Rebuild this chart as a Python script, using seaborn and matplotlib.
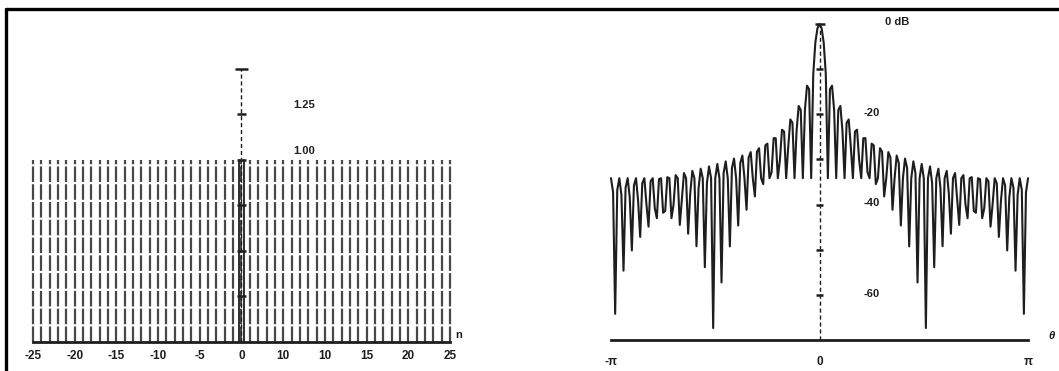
import numpy as np
import matplotlib
matplotlib.use("Agg")
import matplotlib.pyplot as plt
from matplotlib.lines import Line2D
import seaborn as sns
import pandas as pd

# Rectangular window: 51 unit samples, n = -25 .. 25
n_index = list(range(-25, 26))
window_values = [1.0] * 51

# Tick labels under the sample axis (as printed)
n_tick_pos = [-25, -20, -15, -10, -5, 0, 5, 10, 15, 20, 25]
n_tick_labels = ["-25", "-20", "-15", "-10", "-5", "0", "10", "10", "15", "20", "25"]
amp_ticks = [0.25, 0.5, 0.75, 1.0, 1.25, 1.5]
amp_labels = {1.25: "1.25", 1.0: "1.00"}

# Spectrum axis
db_ticks = [-60, -50, -40, -30, -20, -10, 0]
db_labels = {0: "0 dB", -20: "-20", -40: "-40", -60: "-60"}
theta_tick_labels = ["-\u03c0", "0", "\u03c0"]
db_floor = -70.0
n_freq_points = 201

sns.set_theme(style="white")
plt.rcParams["font.family"] = ["Liberation Sans", "DejaVu Sans"]
plt.rcParams["font.weight"] = "bold"

fig = plt.figure(figsize=(10.59, 3.71), dpi=100)
W, H = 1059, 371


def px_rect(x0, y0, x1, y1):
    return [x0 / W, (H - y1) / H, (x1 - x0) / W, (y1 - y0) / H]


ink = "#1e1e1e"
stem_ink = "#474747"

# ---------------- left: window samples ----------------
ax1 = fig.add_axes(px_rect(20, 50, 470, 342))
ax1.set_xlim(-26.56, 27.4)
ax1.set_ylim(0, 1.604)
n_arr = np.array(n_index)
w_arr = np.array(window_values)
ax1.vlines(n_arr, 0, w_arr, colors=stem_ink, linewidth=1.6,
           linestyles=(0, (7, 1.0)))
ax1.vlines([0], 0, 1.5, colors=ink, linewidth=1.0, linestyles=(0, (3, 2)))
for t in amp_ticks:
    half = 0.75 if t == 1.5 else 0.55
    ax1.plot([-half, half], [t, t], color=ink, lw=1.8, solid_capstyle="butt")
ax1.plot([-0.35, -0.35], [0, 1.0], color=ink, lw=1.3)
ax1.plot([0.35, 0.35], [0, 1.0], color=ink, lw=1.3)
for t, lab in amp_labels.items():
    ax1.text(6.2, t + 0.05, lab, fontsize=8, fontweight="bold",
             ha="left", va="center", color=ink)

for s in ["top", "right", "left"]:
    ax1.spines[s].set_visible(False)
ax1.spines["bottom"].set_bounds(-25, 25)
ax1.spines["bottom"].set_linewidth(2.0)
ax1.spines["bottom"].set_color(ink)
ax1.set_yticks([])
ax1.set_xticks(n_tick_pos)
ax1.set_xticklabels(n_tick_labels)
ax1.tick_params(axis="x", direction="out", length=3, width=1.0, color=ink,
                pad=3, labelsize=8.5, labelcolor=ink)
for lab in ax1.get_xticklabels():
    lab.set_fontweight("bold")
ax1.text(25.6, 0.01, "n", fontsize=8, fontweight="bold", ha="left",
         va="bottom", color=ink)

# ---------------- right: log-magnitude of the window transform ----------------
ax2 = fig.add_axes(px_rect(595, 15, 1055, 340))
theta = np.linspace(-np.pi, np.pi, n_freq_points)
spec = (w_arr[None, :] * np.exp(-1j * theta[:, None] * n_arr[None, :])).sum(axis=1)
mag = np.abs(spec) / np.abs(spec).max()
db = np.maximum(20 * np.log10(np.maximum(mag, 1e-6)), db_floor)
spec_df = pd.DataFrame({"theta": theta, "dB": db})
sns.lineplot(data=spec_df, x="theta", y="dB", ax=ax2, color=ink, lw=1.5,
             sort=False, estimator=None)

ax2.set_xlim(-np.pi - 0.241, np.pi + 0.406)
ax2.set_ylim(db_floor, 2.0)
ax2.set_xlabel("")
ax2.set_ylabel("")

ax2.vlines([0], db_floor, 0, colors=ink, linewidth=1.0, linestyles=(0, (3, 2)))
for t in db_ticks:
    half = 0.075 if t == 0 else 0.055
    ax2.plot([-half, half], [t, t], color=ink, lw=1.8, solid_capstyle="butt")
for t, lab in db_labels.items():
    xoff = 0.99 if t == 0 else 0.67
    yoff = 0.5 if t == 0 else 0.3
    ax2.text(xoff, t + yoff, lab, fontsize=8, fontweight="bold",
             ha="left", va="center", color=ink)

for s in ["top", "right", "left"]:
    ax2.spines[s].set_visible(False)
ax2.spines["bottom"].set_bounds(-np.pi, np.pi)
ax2.spines["bottom"].set_linewidth(2.0)
ax2.spines["bottom"].set_color(ink)
ax2.set_yticks([])
minor = [k * np.pi / 5 for k in range(-4, 5)]
ax2.set_xticks([-np.pi, 0, np.pi])
ax2.set_xticklabels(theta_tick_labels)
ax2.set_xticks(minor, minor=True)
ax2.tick_params(axis="x", which="major", direction="inout", length=9, width=1.2,
                color=ink, pad=7, labelsize=8.5, labelcolor=ink)
ax2.tick_params(axis="x", which="minor", direction="out", length=4, width=1.0,
                color=ink)
for lab in ax2.get_xticklabels():
    lab.set_fontweight("bold")
ax2.text(np.pi + 0.3, db_floor + 0.8, "\u03b8", fontsize=8, fontstyle="italic",
         fontweight="bold", ha="left", va="center", color=ink)

# page frame along the top and left edges
fig.add_artist(Line2D([6 / W, 1.0], [(H - 9) / H, (H - 9) / H],
                      transform=fig.transFigure, color="black", lw=2.4))
fig.add_artist(Line2D([6 / W, 6 / W], [0.0, (H - 9) / H],
                      transform=fig.transFigure, color="black", lw=2.4))

fig.savefig("out.png", dpi=100, facecolor="white")
